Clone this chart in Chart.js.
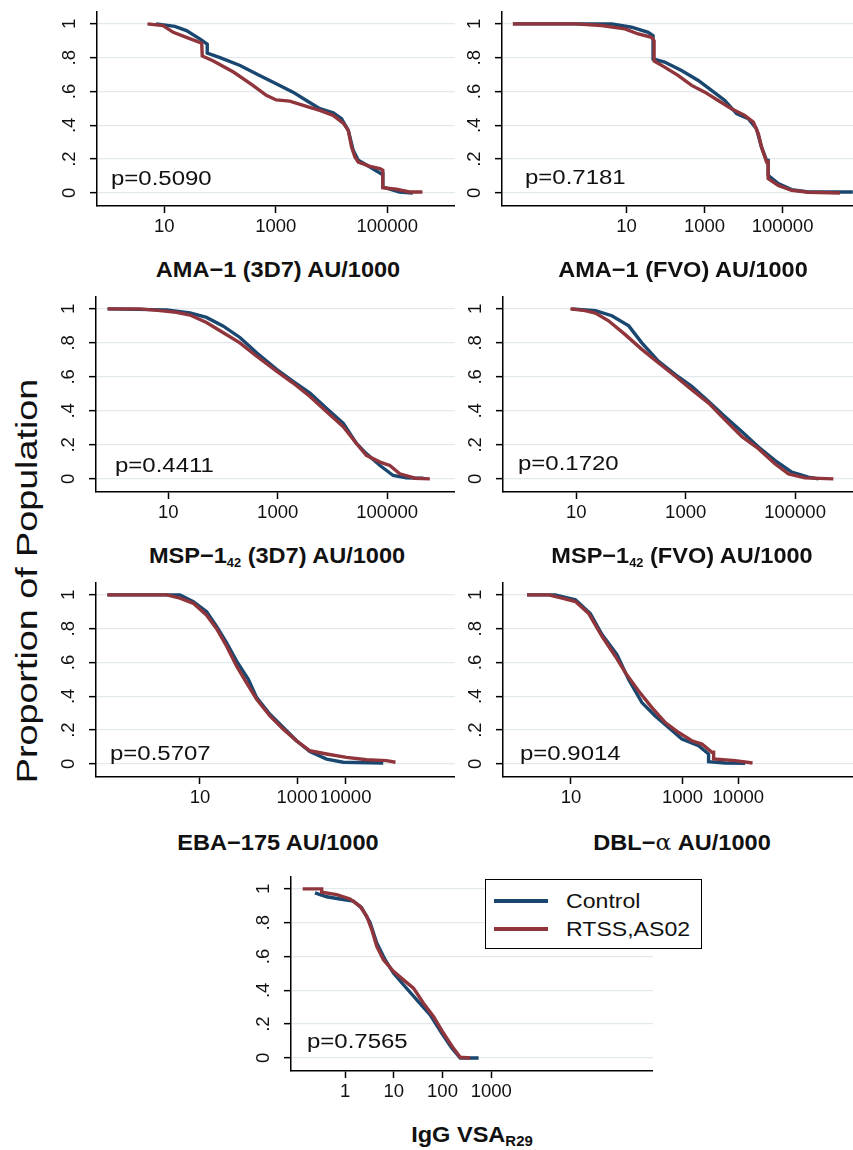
<!DOCTYPE html>
<html>
<head>
<meta charset="utf-8">
<script src="https://cdn.jsdelivr.net/npm/chart.js@4.4.1/dist/chart.umd.min.js"></script>
<style>
  body { margin: 0; background: #fff; }
  #page { position: relative; width: 853px; height: 1150px; overflow: hidden; background: #fff;
          font-family: Arial, "Liberation Sans", Helvetica, sans-serif; color: #111; }
  .panel { position: absolute; }
  .xtitle { position: absolute; font-weight: bold; font-size: 22px; white-space: nowrap;
            transform: translate(-50%, -50%) scaleX(1.07); }
  .xtitle .sub { font-size: 12px; position: relative; top: 4px; }
  .xtitle .alpha { font-family: "DejaVu Serif", serif; font-weight: normal; }
  .pval { position: absolute; font-size: 20.5px; white-space: nowrap; transform-origin: left center;
          transform: translateY(-50%) scaleX(1.17); }
  #ytitle { position: absolute; left: 27px; top: 581px; font-size: 29px; white-space: nowrap;
            transform: translate(-50%, -50%) rotate(-90deg) scaleX(1.3); }
  #legend { position: absolute; left: 485px; top: 879px; width: 215px; height: 68px;
            border: 1.5px solid #000; background: #fff; }
  #legend .row { position: absolute; left: 0; height: 28px; width: 100%; }
  #legend .swatch { position: absolute; left: 8px; top: 12px; width: 54px; height: 3.5px; }
  #legend .lab { position: absolute; left: 80px; top: 0; font-size: 21px; line-height: 28px;
                 white-space: nowrap; transform-origin: left center; transform: scaleX(1.1); }
</style>
</head>
<body>
<div id="page">
  <div id="ytitle">Proportion of Population</div>

  <div class="panel" id="box1"><canvas id="c1"></canvas></div>
  <div class="panel" id="box2"><canvas id="c2"></canvas></div>
  <div class="panel" id="box3"><canvas id="c3"></canvas></div>
  <div class="panel" id="box4"><canvas id="c4"></canvas></div>
  <div class="panel" id="box5"><canvas id="c5"></canvas></div>
  <div class="panel" id="box6"><canvas id="c6"></canvas></div>
  <div class="panel" id="box7"><canvas id="c7"></canvas></div>

  <div class="xtitle" style="left:278px; top:270px">AMA−1 (3D7) AU/1000</div>
  <div class="xtitle" style="left:683px; top:270px">AMA−1 (FVO) AU/1000</div>
  <div class="xtitle" style="left:277px; top:556px">MSP−1<span class="sub">42</span> (3D7) AU/1000</div>
  <div class="xtitle" style="left:682px; top:556px">MSP−1<span class="sub">42</span> (FVO) AU/1000</div>
  <div class="xtitle" style="left:278px; top:843px">EBA−175 AU/1000</div>
  <div class="xtitle" style="left:682px; top:843px">DBL−<span class="alpha">α</span> AU/1000</div>
  <div class="xtitle" style="left:472px; top:1135px">IgG VSA<span class="sub" style="font-size:14px">R29</span></div>

  <div id="pvals"></div>

  <div id="legend">
    <div class="row" style="top:7px"><div class="swatch" style="background:#1a476f"></div><div class="lab">Control</div></div>
    <div class="row" style="top:35px"><div class="swatch" style="background:#90353b"></div><div class="lab">RTSS,AS02</div></div>
  </div>
</div>

<script>
Chart.defaults.font.family = 'Arial, "Liberation Sans", Helvetica, sans-serif';
Chart.defaults.color = '#111';

const yTicks = [0, 0.2, 0.4, 0.6, 0.8, 1];
const yTickLabels = ['0', '.2', '.4', '.6', '.8', '1'];
const seriesNames = ['Control', 'RTSS,AS02'];
const pValues = ['p=0.5090', 'p=0.7181', 'p=0.4411', 'p=0.1720', 'p=0.5707', 'p=0.9014', 'p=0.7565'];

// AMA-1 (3D7)
const ama3d7Ticks = [10, 1000, 100000];
const ama3d7ControlX = [7.1, 15.5, 25, 44, 59, 59, 100, 229, 513, 1020, 2040, 3550, 6170, 10700, 15100, 20000, 24500, 30200, 49000, 77600, 83200, 83200, 166000, 288000];
const ama3d7ControlY = [1, 0.985, 0.96, 0.91, 0.88, 0.827, 0.80, 0.754, 0.695, 0.646, 0.596, 0.547, 0.498, 0.474, 0.439, 0.37, 0.252, 0.193, 0.154, 0.114, 0.114, 0.035, 0.006, 0];
const ama3d7RtssX = [5.0, 9.5, 14.5, 25, 47, 48, 76, 174, 389, 676, 1020, 1780, 3550, 6170, 10700, 16200, 20000, 22900, 26300, 30200, 49000, 74100, 83200, 83200, 145000, 251000, 427000];
const ama3d7RtssY = [1, 0.99, 0.95, 0.92, 0.886, 0.81, 0.78, 0.715, 0.636, 0.577, 0.55, 0.543, 0.512, 0.488, 0.459, 0.413, 0.37, 0.272, 0.213, 0.183, 0.157, 0.144, 0.134, 0.031, 0.022, 0.006, 0.006];

// AMA-1 (FVO)
const amaFvoTicks = [10, 1000, 100000];
const amaFvoControlX = [0.0123, 4.2, 13.5, 36, 48, 48, 95, 257, 692, 1510, 3310, 6610, 13200, 21400, 28800, 38900, 42700, 42700, 77600, 170000, 457000, 6310000];
const amaFvoControlY = [1, 1, 0.98, 0.95, 0.93, 0.793, 0.774, 0.724, 0.665, 0.606, 0.547, 0.469, 0.439, 0.38, 0.272, 0.193, 0.193, 0.104, 0.055, 0.02, 0.006, 0.006];
const amaFvoRtssX = [0.0123, 0.48, 2.3, 9.1, 20, 44, 51, 51, 95, 209, 468, 1020, 2240, 4900, 10700, 17800, 24000, 28800, 38900, 42700, 42700, 77600, 170000, 457000, 2950000];
const amaFvoRtssY = [1, 1, 0.99, 0.97, 0.94, 0.92, 0.90, 0.78, 0.744, 0.695, 0.636, 0.596, 0.547, 0.498, 0.459, 0.419, 0.35, 0.272, 0.183, 0.183, 0.085, 0.045, 0.016, 0.004, 0];

// MSP-1 42 (3D7)
const msp3d7Ticks = [10, 1000, 100000];
const msp3d7ControlX = [0.78, 9.3, 25, 50, 100, 204, 407, 955, 1910, 3890, 7760, 15800, 27500, 41700, 74100, 129000, 224000, 457000];
const msp3d7ControlY = [1, 0.994, 0.976, 0.95, 0.90, 0.832, 0.743, 0.644, 0.574, 0.505, 0.416, 0.327, 0.208, 0.149, 0.079, 0.02, 0.006, 0.004];
const msp3d7RtssX = [0.78, 3.0, 7.1, 14, 25, 50, 100, 204, 407, 955, 1910, 3890, 7760, 15800, 27500, 41700, 74100, 112000, 170000, 324000, 603000];
const msp3d7RtssY = [1, 1, 0.99, 0.98, 0.964, 0.92, 0.861, 0.80, 0.723, 0.634, 0.564, 0.485, 0.396, 0.307, 0.208, 0.139, 0.099, 0.079, 0.03, 0.004, 0];

// MSP-1 42 (FVO)
const mspFvoTicks = [10, 1000, 100000];
const mspFvoControlX = [8.3, 22.4, 44.7, 91, 158, 316, 646, 1290, 2630, 5250, 10700, 21400, 42700, 87100, 174000, 269000];
const mspFvoControlY = [1, 0.99, 0.96, 0.90, 0.80, 0.693, 0.614, 0.545, 0.455, 0.366, 0.277, 0.188, 0.109, 0.04, 0.01, 0];
const mspFvoRtssX = [7.8, 14.5, 22.4, 38.9, 77.6, 158, 316, 646, 1290, 2630, 5250, 10700, 21400, 42700, 75900, 151000, 501000];
const mspFvoRtssY = [1, 0.99, 0.976, 0.93, 0.85, 0.762, 0.683, 0.604, 0.525, 0.446, 0.347, 0.248, 0.178, 0.089, 0.03, 0.006, 0];

// EBA-175
const ebaTicks = [10, 1000, 10000];
const ebaControlX = [0.124, 3.87, 7.3, 13.7, 22, 35.4, 56.8, 98.9, 147, 275, 519, 975, 1830, 4040, 8890, 59200];
const ebaControlY = [1, 1, 0.96, 0.90, 0.814, 0.716, 0.608, 0.50, 0.392, 0.294, 0.216, 0.137, 0.073, 0.029, 0.01, 0.006];
const ebaRtssX = [0.124, 2.06, 3.87, 7.3, 13.7, 22, 35.4, 56.8, 91.2, 147, 275, 519, 975, 1830, 4040, 10400, 26900, 69300, 106000];
const ebaRtssY = [1, 1, 0.98, 0.95, 0.88, 0.80, 0.696, 0.578, 0.48, 0.382, 0.284, 0.206, 0.137, 0.078, 0.059, 0.039, 0.025, 0.02, 0.01];

// DBL-alpha
const dblTicks = [10, 1000, 10000];
const dblControlX = [1.63, 5.2, 12, 22.2, 36, 66.7, 108, 187, 324, 562, 975, 1940, 2930, 2930, 5830, 13300];
const dblControlY = [1, 1, 0.97, 0.89, 0.765, 0.647, 0.50, 0.363, 0.284, 0.216, 0.147, 0.108, 0.059, 0.014, 0.006, 0.004];
const dblRtssX = [1.63, 3.98, 6.9, 12, 20.7, 36, 62.4, 94.2, 163, 283, 491, 851, 1470, 2230, 3370, 3610, 3610, 8810, 18000];
const dblRtssY = [1, 1, 0.98, 0.96, 0.89, 0.755, 0.637, 0.54, 0.431, 0.333, 0.245, 0.186, 0.137, 0.118, 0.069, 0.069, 0.03, 0.02, 0.006];

// IgG VSA R29
const vsaTicks = [1, 10, 100, 1000];
const vsaControlX = [0.242, 0.42, 0.789, 1.48, 2.2, 3.27, 4.48, 6.64, 9.84, 15.8, 29.7, 55.8, 96.8, 156, 231, 550];
const vsaControlY = [0.976, 0.953, 0.94, 0.927, 0.887, 0.80, 0.68, 0.581, 0.502, 0.433, 0.344, 0.255, 0.146, 0.057, 0, 0];
const vsaRtssX = [0.135, 0.332, 0.332, 0.675, 1.27, 2.03, 2.79, 3.53, 4.48, 6.14, 9.84, 15.8, 25.4, 40.7, 65.3, 105, 168, 231, 370];
const vsaRtssY = [1, 1, 0.98, 0.966, 0.94, 0.897, 0.838, 0.759, 0.66, 0.581, 0.512, 0.462, 0.413, 0.324, 0.245, 0.146, 0.057, 0.004, 0];

/*------------------------------------------------------------------*/

// plot area of each panel on the page (axis lines) and the log x range it covers
const panels = [
  {id: 1, l: 97,  t: 12,  r: 455, b: 206,  xMin: 0.622,  xMax: 1640000,  ticks: ama3d7Ticks, cx: ama3d7ControlX, cy: ama3d7ControlY, rx: ama3d7RtssX, ry: ama3d7RtssY, pX: 111, pY: 178},
  {id: 2, l: 502, t: 12,  r: 861, b: 206,  xMin: 0.00646, xMax: 10230000, ticks: amaFvoTicks, cx: amaFvoControlX, cy: amaFvoControlY, rx: amaFvoRtssX, ry: amaFvoRtssY, pX: 525, pY: 177},
  {id: 3, l: 96,  t: 297, r: 455, b: 492,  xMin: 0.479,  xMax: 1738000,  ticks: msp3d7Ticks, cx: msp3d7ControlX, cy: msp3d7ControlY, rx: msp3d7RtssX, ry: msp3d7RtssY, pX: 115, pY: 465},
  {id: 4, l: 503, t: 297, r: 861, b: 492,  xMin: 0.458,  xMax: 1603000,  ticks: mspFvoTicks, cx: mspFvoControlX, cy: mspFvoControlY, rx: mspFvoRtssX, ry: mspFvoRtssY, pX: 518, pY: 463},
  {id: 5, l: 96,  t: 583, r: 455, b: 777,  xMin: 0.0724, xMax: 1778000,  ticks: ebaTicks, cx: ebaControlX, cy: ebaControlY, rx: ebaRtssX, ry: ebaRtssY, pX: 110, pY: 753},
  {id: 6, l: 503, t: 583, r: 861, b: 777,  xMin: 0.604,  xMax: 1585000,  ticks: dblTicks, cx: dblControlX, cy: dblControlY, rx: dblRtssX, ry: dblRtssY, pX: 520, pY: 753},
  {id: 7, l: 291, t: 877, r: 653, b: 1071, xMin: 0.0778, xMax: 2089000,  ticks: vsaTicks, cx: vsaControlX, cy: vsaControlY, rx: vsaRtssX, ry: vsaRtssY, pX: 307, pY: 1041}
];

const Y_AXIS_W = 60;
const X_AXIS_H = 40;
const PAD_TOP = 12;

const pts = (xs, ys) => xs.map((x, i) => ({x: x, y: ys[i]}));

panels.forEach(function (p, k) {
  const box = document.getElementById('box' + p.id);
  box.style.left = (p.l - Y_AXIS_W) + 'px';
  box.style.top = (p.t - PAD_TOP) + 'px';
  box.style.width = (p.r - p.l + Y_AXIS_W) + 'px';
  box.style.height = (p.b - p.t + PAD_TOP + X_AXIS_H) + 'px';

  const pv = document.createElement('div');
  pv.className = 'pval';
  pv.style.left = p.pX + 'px';
  pv.style.top = p.pY + 'px';
  pv.textContent = pValues[k];
  document.getElementById('pvals').appendChild(pv);

  new Chart(document.getElementById('c' + p.id), {
    type: 'line',
    data: {
      datasets: [{
        label: seriesNames[1],
        data: pts(p.rx, p.ry),
        borderColor: '#90353b',
        borderWidth: 3.4,
        pointRadius: 0,
        tension: 0,
        order: 0
      }, {
        label: seriesNames[0],
        data: pts(p.cx, p.cy),
        borderColor: '#1a476f',
        borderWidth: 3.4,
        pointRadius: 0,
        tension: 0,
        order: 1
      }]
    },
    options: {
      responsive: true,
      maintainAspectRatio: false,
      animation: false,
      layout: {padding: {top: PAD_TOP, left: 0, right: 0, bottom: 0}},
      plugins: {legend: {display: false}, tooltip: {enabled: false}},
      scales: {
        x: {
          type: 'logarithmic',
          bounds: 'data',
          min: p.xMin,
          max: p.xMax,
          afterBuildTicks: function (s) { s.ticks = p.ticks.map(v => ({value: v})); },
          afterFit: function (s) { s.height = X_AXIS_H; s.paddingLeft = 0; s.paddingRight = 0; },
          grid: {drawOnChartArea: false, drawTicks: true, tickLength: 7, tickColor: '#000', tickWidth: 1.5},
          border: {display: true, color: '#000', width: 1.5},
          ticks: {
            autoSkip: false, maxRotation: 0, minRotation: 0, padding: 3,
            font: {size: 18.5}, color: '#111',
            callback: function (v) { return String(v); }
          }
        },
        y: {
          type: 'linear',
          bounds: 'data',
          min: -0.077,
          max: 1.07,
          afterBuildTicks: function (s) { s.ticks = yTicks.map(v => ({value: v})); },
          afterFit: function (s) { s.width = Y_AXIS_W; s.paddingTop = 0; s.paddingBottom = 0; },
          grid: {color: '#e2eaed', lineWidth: 1.3, drawTicks: true, tickLength: 7, tickColor: '#000', tickWidth: 1.5},
          border: {display: true, color: '#000', width: 1.5},
          ticks: {
            minRotation: 90, maxRotation: 90, crossAlign: 'center', padding: 12,
            font: {size: 18.5}, color: '#111',
            callback: function (v, i) { return yTickLabels[i]; }
          }
        }
      }
    }
  });
});
</script>
</body>
</html>
